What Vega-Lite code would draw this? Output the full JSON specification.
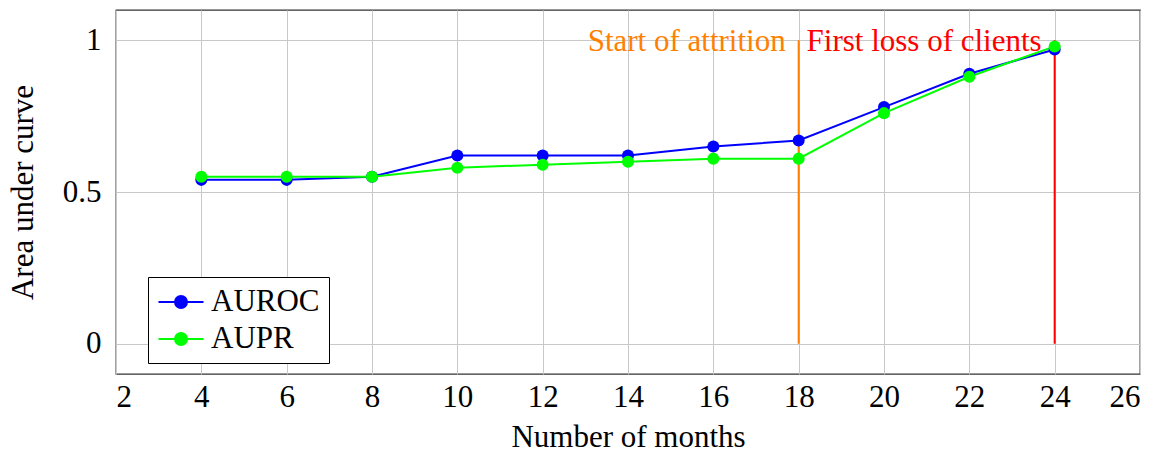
{
  "$schema": "https://vega.github.io/schema/vega-lite/v6.json",
  "autosize": {"type": "none"},
  "width": 1024,
  "height": 364,
  "padding": {"left": 116, "top": 10, "right": 31, "bottom": 78},
  "config": {
    "font": "Liberation Serif",
    "view": {"stroke": "#333", "strokeWidth": 1.3},
    "axis": {
      "gridColor": "#c8c8c8", "gridWidth": 1, "ticks": false, "domain": false,
      "labelFont": "Liberation Serif", "labelFontSize": 31, "labelColor": "#000",
      "titleFont": "Liberation Serif", "titleFontSize": 31, "titleColor": "#000", "titleFontWeight": "normal"
    },
    "legend": {
      "labelFont": "Liberation Serif", "labelFontSize": 31, "labelColor": "#000"
    }
  },
  "datasets": {
    "series": [
      {"month": 4, "metric": "AUROC", "value": 0.54},
      {"month": 6, "metric": "AUROC", "value": 0.54},
      {"month": 8, "metric": "AUROC", "value": 0.55},
      {"month": 10, "metric": "AUROC", "value": 0.62},
      {"month": 12, "metric": "AUROC", "value": 0.62},
      {"month": 14, "metric": "AUROC", "value": 0.62},
      {"month": 16, "metric": "AUROC", "value": 0.65},
      {"month": 18, "metric": "AUROC", "value": 0.67},
      {"month": 20, "metric": "AUROC", "value": 0.78},
      {"month": 22, "metric": "AUROC", "value": 0.89},
      {"month": 24, "metric": "AUROC", "value": 0.97},
      {"month": 4, "metric": "AUPR", "value": 0.55},
      {"month": 6, "metric": "AUPR", "value": 0.55},
      {"month": 8, "metric": "AUPR", "value": 0.55},
      {"month": 10, "metric": "AUPR", "value": 0.58},
      {"month": 12, "metric": "AUPR", "value": 0.59},
      {"month": 14, "metric": "AUPR", "value": 0.60},
      {"month": 16, "metric": "AUPR", "value": 0.61},
      {"month": 18, "metric": "AUPR", "value": 0.61},
      {"month": 20, "metric": "AUPR", "value": 0.76},
      {"month": 22, "metric": "AUPR", "value": 0.88},
      {"month": 24, "metric": "AUPR", "value": 0.98}
    ],
    "events": [
      {"month": 18, "event": "Start of attrition", "top": 1, "bottom": 0},
      {"month": 24, "event": "First loss of clients", "top": 1, "bottom": 0}
    ]
  },
  "encoding": {
    "x": {
      "field": "month", "type": "quantitative",
      "scale": {"domain": [2, 26], "nice": false, "zero": false},
      "axis": {"values": [2,4,6,8,10,12,14,16,18,20,22,24,26], "title": "Number of months", "labelPadding": 8, "titlePadding": 10}
    }
  },
  "layer": [
    {
      "data": {"name": "events"},
      "encoding": {
        "color": {
          "field": "event", "type": "nominal",
          "scale": {"domain": ["Start of attrition", "First loss of clients"], "range": ["#ff8000", "#ff0000"]},
          "legend": null
        }
      },
      "layer": [
        {
          "mark": {"type": "rule", "strokeWidth": 2},
          "encoding": {
            "y": {"field": "bottom", "type": "quantitative", "scale": {"domain": [-0.1, 1.1], "nice": false}},
            "y2": {"field": "top"}
          }
        },
        {
          "mark": {"type": "text", "align": "right", "baseline": "alphabetic", "dx": -13, "dy": 11, "fontSize": 31, "font": "Liberation Serif"},
          "encoding": {
            "y": {"field": "top", "type": "quantitative"},
            "text": {"field": "event"}
          }
        }
      ]
    },
    {
      "data": {"name": "series"},
      "encoding": {
        "y": {
          "field": "value", "type": "quantitative",
          "scale": {"domain": [-0.1, 1.1], "nice": false},
          "axis": {"values": [0, 0.5, 1], "format": "~g", "title": "Area under curve", "labelPadding": 15, "titlePadding": 23}
        },
        "color": {
          "field": "metric", "type": "nominal",
          "scale": {"domain": ["AUROC", "AUPR"], "range": ["#0000ff", "#00ff00"]},
          "legend": {
            "title": null, "orient": "none", "legendX": 32, "legendY": 267,
            "padding": 9, "strokeColor": "#000", "fillColor": "#fff",
            "symbolType": "M-1.5,0H1.5M0.4,0A0.4,0.4,0,1,1,-0.4,0A0.4,0.4,0,1,1,0.4,0Z",
            "symbolSize": 900, "symbolStrokeWidth": 2, "symbolOffset": 8,
            "labelOffset": 14, "rowPadding": 6, "cornerRadius": 0
          }
        }
      },
      "layer": [
        {"mark": {"type": "line", "strokeWidth": 2}},
        {"mark": {"type": "point", "filled": true, "size": 145, "opacity": 1}}
      ]
    }
  ],
  "resolve": {"scale": {"color": "independent"}, "legend": {"color": "independent"}}
}
